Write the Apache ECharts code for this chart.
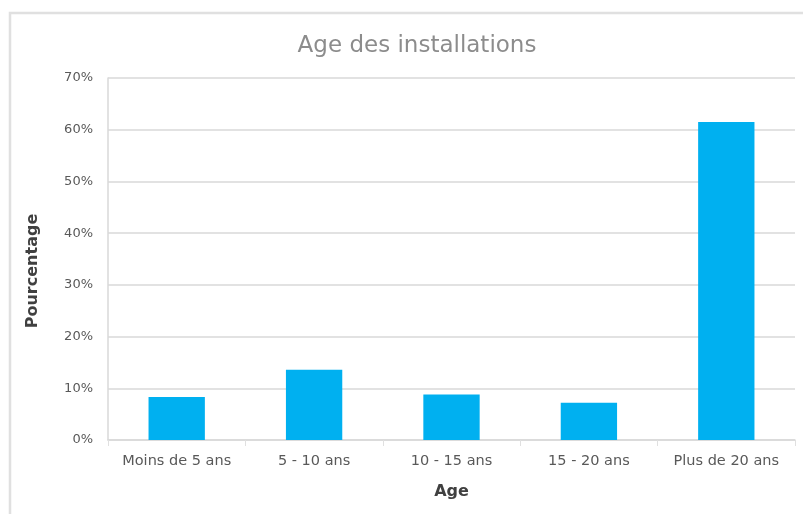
<!DOCTYPE html>
<html><head><meta charset="utf-8">
<script src="https://cdn.jsdelivr.net/npm/echarts@6/dist/echarts.min.js"></script>
<style>html,body{margin:0;padding:0;background:#fff}#c{width:803px;height:514px}</style>
</head><body><div id="c"></div>
<script>
var categories = ["Moins de 5 ans", "5 - 10 ans", "10 - 15 ans", "15 - 20 ans", "Plus de 20 ans"];
var values = [8.3, 13.6, 8.8, 7.2, 61.5];
var F = 'DejaVu Sans, Liberation Sans, Arial';
var chart = echarts.init(document.getElementById('c'));
chart.setOption({
  animation: false,
  backgroundColor: '#fff',
  graphic: [{type:'rect', shape:{x:10,y:13,width:820,height:540}, style:{fill:'none', stroke:'#e0e0e0', lineWidth:2.5}, silent:true}],
  title: {text: 'Age des installations', left: 412, textAlign:'center', top: 30, textStyle:{fontFamily:F, fontSize:23, fontWeight:'normal', color:'#8c8c8c'}},
  grid: {left: 108, right: 8, top: 78, bottom: 74},
  xAxis: {type:'category', data: categories, name:'Age', nameLocation:'middle', nameGap:44,
    nameTextStyle:{fontFamily:F, fontSize:16, fontWeight:'bold', color:'#404040'},
    axisLine:{lineStyle:{color:'#d9d9d9', width:1.5}}, axisTick:{show:true, interval:0, length:6, lineStyle:{color:'#e0e0e0'}},
    axisLabel:{interval:0, hideOverlap:false, fontFamily:F, fontSize:14.5, color:'#595959', margin:14}},
  yAxis: {type:'value', min:0, max:70, interval:10, name:'Pourcentage', nameLocation:'middle', nameGap:67, nameRotate:90,
    nameTextStyle:{fontFamily:F, fontSize:16, fontWeight:'bold', color:'#404040', padding:[0,24,0,0]},
    axisLine:{show:true, lineStyle:{color:'#d9d9d9', width:1.5}}, axisTick:{show:false},
    splitLine:{lineStyle:{color:'#d9d9d9', width:1.5}},
    axisLabel:{formatter:'{value}%', fontFamily:F, fontSize:13, color:'#595959', margin:15}},
  series: [{type:'bar', data: values, barWidth:'41%', itemStyle:{color:'#00b0f0'}}]
});
</script></body></html>
